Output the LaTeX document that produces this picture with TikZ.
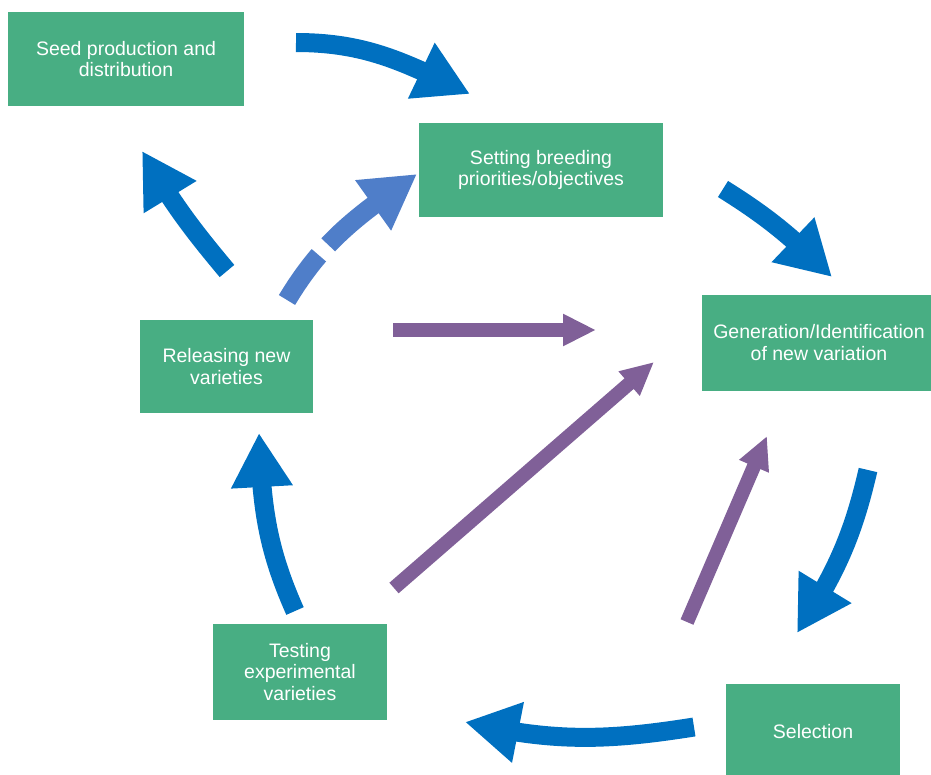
\documentclass[tikz,border=0pt]{standalone}
\usepackage{fontspec}
\setmainfont{Liberation Sans}
\usetikzlibrary{arrows.meta,bending}
\definecolor{boxgreen}{RGB}{72,174,131}
\definecolor{arrowblue}{RGB}{0,112,192}
\definecolor{lightblue}{RGB}{79,126,201}
\definecolor{arrowpurple}{RGB}{128,96,152}
\tikzset{
  box/.style={rectangle, fill=boxgreen, text=white, align=center, inner sep=0pt,
    font=\fontsize{19.5}{21.5}\selectfont},
  bluearrow/.style={draw=arrowblue, line width=19pt, line cap=butt,
    -{Triangle[length=54pt,width=58pt,flex]}},
  dasharrow/.style={draw=lightblue, line width=19pt, line cap=butt,
    dash pattern=on 55pt off 14pt on 80pt off 1pt,
    -{Triangle[length=54pt,width=58pt,flex]}},
  purplearrow/.style={draw=arrowpurple, line width=14pt, line cap=butt,
    -{Triangle[length=33pt,width=30pt]}}
}
\begin{document}
\begin{tikzpicture}[x=1pt,y=1pt]
\useasboundingbox (0,0) rectangle (931,-774);
% boxes
\node[box, minimum width=236pt, minimum height=94pt] (seed) at (126,-59) {Seed production and\\distribution};
\node[box, minimum width=244pt, minimum height=94pt] (set) at (541,-170) {Setting breeding\\priorities/objectives};
\node[box, minimum width=234pt, minimum height=96pt] (gen) at (819,-342.5) {Generation/Identification\\of new variation};
\node[box, minimum width=173pt, minimum height=93pt] (rel) at (226.5,-366.5) {Releasing new\\varieties};
\node[box, minimum width=174pt, minimum height=96pt] (test) at (300,-672) {Testing\\experimental\\varieties};
\node[box, minimum width=174pt, minimum height=96pt] (sel) at (813,-732) {Selection};
% arrow end points
\coordinate (a1) at (296,-42.5);  \coordinate (a2) at (470,-94);
\coordinate (b1) at (723,-189);   \coordinate (b2) at (832,-277);
\coordinate (c1) at (868,-470);   \coordinate (c2) at (797,-633);
\coordinate (d1) at (694,-727);   \coordinate (d2) at (465,-722);
\coordinate (e1) at (295,-611);   \coordinate (e2) at (259,-433);
\coordinate (f1) at (227,-271);   \coordinate (f2) at (142,-151);
\coordinate (g1) at (287,-300);   \coordinate (g2) at (417,-174);
\coordinate (p1) at (393,-330);   \coordinate (p2) at (596,-330);
\coordinate (q1) at (394,-588);   \coordinate (q2) at (654,-362);
\coordinate (r1) at (687,-622);   \coordinate (r2) at (767,-436);
% blue cycle arrows
\draw[bluearrow] (a1) to[out=0,in=154] (a2);
\draw[bluearrow] (b1) to[out=-32,in=135] (b2);
\draw[bluearrow] (c1) to[out=257,in=57] (c2);
\draw[bluearrow] (d1) to[out=189,in=-13] (d2);
\draw[bluearrow] (e1) to[out=114,in=-88] (e2);
\draw[bluearrow] (f1) to[out=130,in=-60] (f2);
% dashed arrow
\draw[dasharrow] (g1) to[out=59,in=215] (g2);
% purple arrows
\draw[purplearrow] (p1) -- (p2);
\draw[purplearrow] (q1) -- (q2);
\draw[purplearrow] (r1) -- (r2);
\end{tikzpicture}
\end{document}
